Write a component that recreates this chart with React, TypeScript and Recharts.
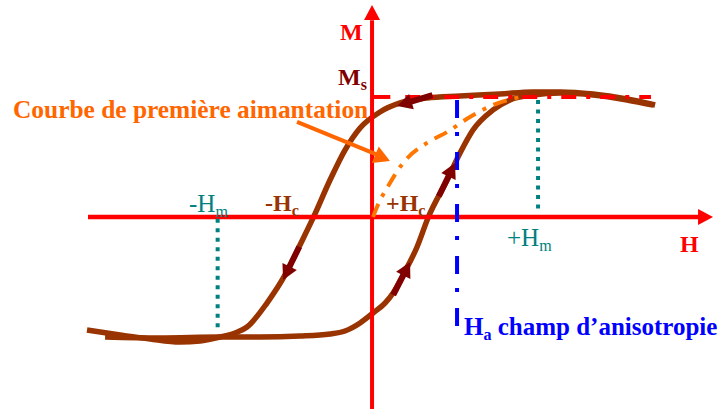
import React from 'react';
import { ComposedChart, Line, Scatter, XAxis, YAxis, ReferenceLine } from 'recharts';

// H en % de Hm, M en % de Ms
const upperBranch = [
  { h: -171.7, m: -94.2 }, { h: -151.8, m: -98.3 }, { h: -133.7, m: -101.7 },
  { h: -115.7, m: -104.2 }, { h: -103.6, m: -103.3 }, { h: -91.6, m: -100 },
  { h: -82.5, m: -96.7 }, { h: -75.3, m: -91.7 }, { h: -63.3, m: -71.7 },
  { h: -52.4, m: -48.3 }, { h: -43.4, m: -23.3 }, { h: -35.5, m: -0.8 },
  { h: -25.3, m: 30.8 }, { h: -16.3, m: 55.8 }, { h: -7.2, m: 74.2 },
  { h: 4.8, m: 87.5 }, { h: 16.9, m: 95 }, { h: 33.1, m: 99.2 },
  { h: 53, m: 100.8 }, { h: 77.1, m: 102.5 }, { h: 97, m: 104.2 },
  { h: 113.3, m: 104.2 }, { h: 133.1, m: 102.5 }, { h: 153.6, m: 98.3 },
  { h: 170.5, m: 93.3 },
];

const lowerBranch = [
  { h: -160.8, m: -100 }, { h: -127.7, m: -100.8 }, { h: -91.6, m: -100 },
  { h: -67.5, m: -100 }, { h: -43.4, m: -99.2 }, { h: -25.3, m: -97.5 },
  { h: -16.3, m: -95 }, { h: -7.2, m: -88.3 }, { h: 0.6, m: -80 },
  { h: 7.8, m: -71.7 }, { h: 12.7, m: -63.3 }, { h: 18.7, m: -48.3 },
  { h: 27.1, m: -25 }, { h: 33.7, m: -0.8 }, { h: 45.2, m: 30.8 },
  { h: 53, m: 53.3 }, { h: 60.8, m: 72.5 }, { h: 72.9, m: 89.2 },
  { h: 83.1, m: 97.5 }, { h: 97, m: 101.7 }, { h: 113.3, m: 103.3 },
  { h: 133.1, m: 101.7 }, { h: 153.6, m: 97.5 }, { h: 169.3, m: 93.3 },
];

// courbe de première aimantation
const firstCurve = [
  { h: 0.6, m: 0 }, { h: 3, m: 8.3 }, { h: 10.8, m: 28.3 }, { h: 18.7, m: 45 },
  { h: 33.1, m: 61.7 }, { h: 45.2, m: 70.8 }, { h: 59, m: 83.3 },
  { h: 72.9, m: 93.3 }, { h: 89.2, m: 100 },
];

// flèches (angle écran en degrés)
const curveArrows = [
  { h: 15.1, m: 92.5, angle: 163 },
  { h: -53.6, m: -52.5, angle: 116 },
  { h: 22.9, m: -37.5, angle: -63 },
  { h: 50, m: 45, angle: -64 },
];
const axisArrows = [
  { h: 205.4, m: 0, angle: 0 },
  { h: 0, m: 176.7, angle: -90 },
];
const pointerArrow = [{ h: 10.8, m: 46.7, angle: 23 }];

const MS = 100;
const HM_NEG = -93;
const HM_POS = 100;
const HA = 51.2;

const FONT = "'Liberation Serif', 'Times New Roman', serif";

const arrowShape = (color: string, len: number, half: number, shaft: number) => (props: any) => {
  const { cx, cy, payload } = props;
  return (
    <g transform={`translate(${cx},${cy}) rotate(${payload.angle})`}>
      {shaft > 0 && (
        <line x1={-len - shaft} y1={0} x2={-len + 2} y2={0} stroke={color} strokeWidth={6} />
      )}
      <polygon points={`0,0 ${-len},${-half} ${-len},${half}`} fill={color} />
    </g>
  );
};

// texte avec indice
function Sub({ x, y, main, sub, rest, color, bold, size = 25 }: any) {
  return (
    <text x={x} y={y} fontSize={size} fontWeight={bold ? 'bold' : 'normal'} fill={color}>
      <tspan>{main}</tspan>
      <tspan fontSize={16} dy={5}>{sub}</tspan>
      {rest && <tspan dy={-5}>{rest}</tspan>}
    </text>
  );
}

export default function App() {
  return (
    <div style={{ position: 'absolute', left: 0, top: 0, width: 723, height: 409, background: '#fff' }}>
      <ComposedChart width={723} height={409} margin={{ top: 0, right: 0, bottom: 0, left: 0 }}>
        <XAxis type="number" dataKey="h" domain={[-224.1, 211.4]} hide allowDataOverflow />
        <YAxis type="number" dataKey="m" domain={[-160, 180.8]} hide allowDataOverflow />

        {/* cycle d'hystérésis */}
        <Line data={upperBranch} dataKey="m" type="monotone" stroke="#993300" strokeWidth={5.5} dot={false} activeDot={false} isAnimationActive={false} />
        <Line data={lowerBranch} dataKey="m" type="monotone" stroke="#993300" strokeWidth={5.5} dot={false} activeDot={false} isAnimationActive={false} />

        {/* axes */}
        <ReferenceLine segment={[{ x: -171.1, y: 0 }, { x: 199, y: 0 }]} stroke="#FF0000" strokeWidth={4.5} />
        <ReferenceLine segment={[{ x: 0, y: -160 }, { x: 0, y: 164 }]} stroke="#FF0000" strokeWidth={4} />
        <ReferenceLine segment={[{ x: 0, y: MS }, { x: 11, y: MS }]} stroke="#FF0000" strokeWidth={4} />

        <Line data={firstCurve} dataKey="m" type="monotone" stroke="#FF7700" strokeWidth={4} strokeDasharray="14 8 4 8" dot={false} activeDot={false} isAnimationActive={false} />

        {/* Ms */}
        <ReferenceLine segment={[{ x: 20, y: MS }, { x: 168, y: MS }]} stroke="#FF0000" strokeWidth={4} strokeDasharray="15 10 4 10" />

        {/* Ha */}
        <ReferenceLine segment={[{ x: HA, y: 97.5 }, { x: HA, y: -97.5 }]} stroke="#0000FF" strokeWidth={4} strokeDasharray="18 14 4 16" />

        {/* Hm */}
        <ReferenceLine segment={[{ x: HM_NEG, y: -1.5 }, { x: HM_NEG, y: -94 }]} stroke="#008080" strokeWidth={4} strokeDasharray="4 5.5" />
        <ReferenceLine segment={[{ x: HM_POS, y: 97.5 }, { x: HM_POS, y: 3.3 }]} stroke="#008080" strokeWidth={4} strokeDasharray="4 5.5" />

        {/* flèche de la légende */}
        <ReferenceLine segment={[{ x: -45.2, y: 79.2 }, { x: 3, y: 52 }]} stroke="#FF6600" strokeWidth={4} />

        <Scatter data={curveArrows} shape={arrowShape('#800000', 15, 8, 22)} isAnimationActive={false} />
        <Scatter data={axisArrows} shape={arrowShape('#FF0000', 15, 8, 0)} isAnimationActive={false} />
        <Scatter data={pointerArrow} shape={arrowShape('#FF6600', 16, 9, 0)} isAnimationActive={false} />
      </ComposedChart>

      <svg width={723} height={409} style={{ position: 'absolute', left: 0, top: 0, pointerEvents: 'none' }} fontFamily={FONT}>
        <text x={340} y={40} fontSize={24} fontWeight="bold" fill="#FF0000">M</text>
        <Sub x={338} y={85} main="M" sub="s" color="#800000" bold size={24} />
        <text x={13} y={118} fontSize={25.4} fontWeight="bold" fill="#FF6600">Courbe de première aimantation</text>

        <Sub x={189} y={212} main="-H" sub="m" color="#008080" size={25} />
        <Sub x={265} y={211} main="-H" sub="c" color="#993300" bold size={24} />
        <Sub x={386} y={211} main="+H" sub="c" color="#993300" bold size={24} />
        <Sub x={507} y={246} main="+H" sub="m" color="#008080" size={25} />

        <text x={680} y={252} fontSize={24} fontWeight="bold" fill="#FF0000">H</text>

        <Sub x={464} y={335} main="H" sub="a" rest=" champ d’anisotropie" color="#0000FF" bold size={25} />
      </svg>
    </div>
  );
}
